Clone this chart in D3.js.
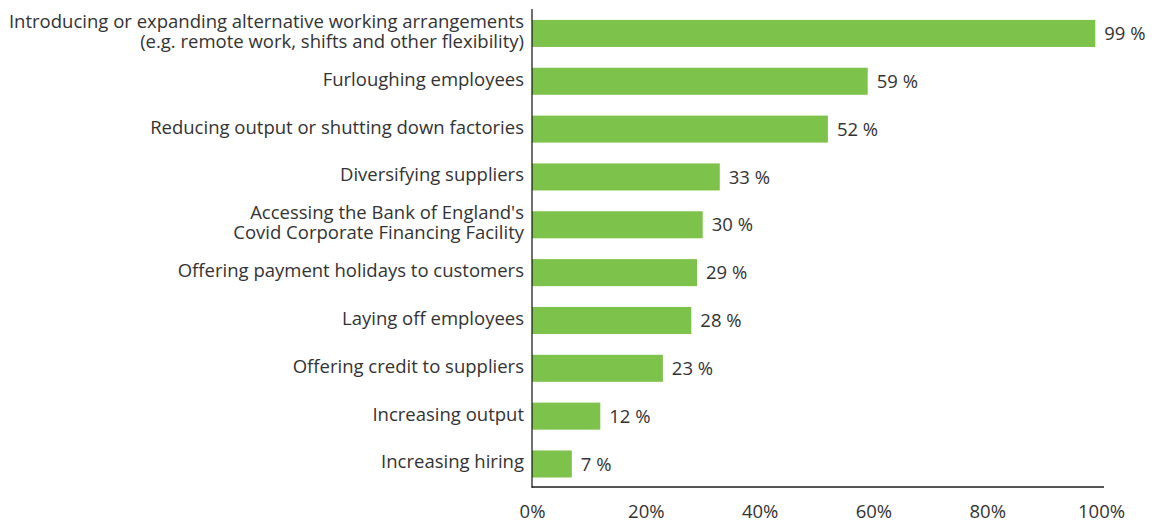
<!DOCTYPE html>
<html><head><meta charset="utf-8">
<script src="https://cdn.jsdelivr.net/npm/d3@7"></script>
<style>
body{margin:0;background:#fff;}
text{font-family:"Open Sans",sans-serif;}
</style></head>
<body><svg id="c" width="1161" height="522"></svg>
<script>
const categories = [
  ["Introducing or expanding alternative working arrangements", "(e.g. remote work, shifts and other flexibility)"],
  ["Furloughing employees"],
  ["Reducing output or shutting down factories"],
  ["Diversifying suppliers"],
  ["Accessing the Bank of England's", "Covid Corporate Financing Facility"],
  ["Offering payment holidays to customers"],
  ["Laying off employees"],
  ["Offering credit to suppliers"],
  ["Increasing output"],
  ["Increasing hiring"]
];
const values = [99, 59, 52, 33, 30, 29, 28, 23, 12, 7];
const xTicks = [0, 20, 40, 60, 80, 100];

const FS = 18.5;
const svg = d3.select("#c");
const x = d3.scaleLinear().domain([0, 100]).range([532, 1101]);
const y = d3.scaleBand().domain(d3.range(categories.length)).range([9.5, 487.9])
  .paddingInner(0.435).paddingOuter(0.2175);

svg.selectAll("rect.bar").data(values).join("rect")
  .attr("class","bar")
  .attr("x", x(0)).attr("y", (d,i)=>y(i))
  .attr("width", d=>x(d)-x(0)).attr("height", y.bandwidth())
  .attr("fill", "#7dc24a");

svg.selectAll("text.val").data(values).join("text")
  .attr("class","val")
  .attr("x", d=>x(d)+9).attr("y", (d,i)=>y(i)+y.bandwidth()/2)
  .attr("dy","0.36em").attr("font-size",FS).attr("fill","#333")
  .text(d=>d+" %");

svg.selectAll("g.cat").data(categories).join("g").attr("class","cat")
  .each(function(lines,i){
    const cy = y(i)+y.bandwidth()/2;
    const n = lines.length;
    d3.select(this).selectAll("text").data(lines).join("text")
      .attr("text-anchor","end").attr("font-size",FS).attr("fill","#333")
      .attr("x", 524)
      .attr("y", (l,j)=>cy + 4.5 + (j-(n-1)/2)*20)
      .text(l=>l);
  });

// axes
const xAxis = d3.axisBottom(x).tickValues(xTicks).tickFormat(d=>d+"%").tickSize(0).tickPadding(18);
const gx = svg.append("g").attr("transform","translate(0,487)").call(xAxis);
gx.select(".domain").attr("stroke","#555").attr("stroke-width",2).attr("d","M532,0H1104");
gx.selectAll("text").attr("font-size",FS).attr("fill","#333").attr("font-family","Open Sans");

svg.append("line").attr("x1",532).attr("x2",532).attr("y1",9).attr("y2",488)
  .attr("stroke","#111").attr("stroke-width",1.2);
</script></body></html>
